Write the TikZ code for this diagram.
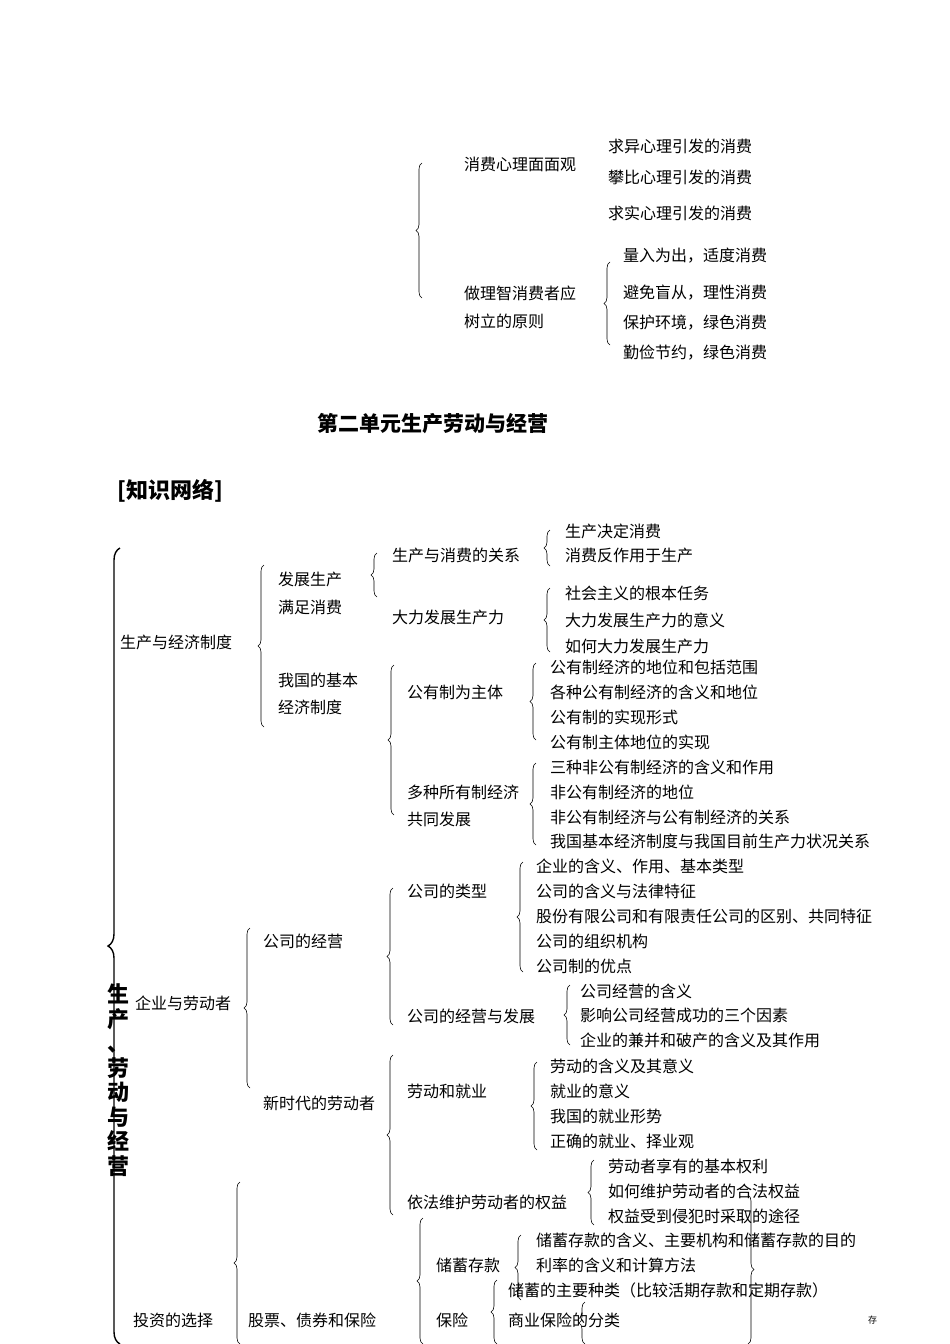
\documentclass[tikz,border=0pt]{standalone}
\usepackage{fontspec}
\setmainfont{Noto Sans CJK SC}
\usetikzlibrary{decorations.pathreplacing}
\newcounter{tn}
\newcommand{\T}[3]{\stepcounter{tn}\node[txt] (t\arabic{tn}) at (#1,#2) {#3};}
\newcommand{\B}[3]{\draw[br] (#1,#3) -- (#1,#2);}
\begin{document}
\begin{tikzpicture}[x=1pt,y=-1pt,
 txt/.style={anchor=west,inner sep=0pt,font=\fontsize{16}{18}\selectfont},
 br/.style={decorate,decoration={brace,amplitude=6pt},line width=0.6pt}]
\useasboundingbox (0,0) rectangle (950,1344);
% top section
\B{422}{163}{298}
\T{464}{164}{消费心理面面观}
\T{608}{146}{求异心理引发的消费}
\T{608}{177}{攀比心理引发的消费}
\T{608}{213}{求实心理引发的消费}
\T{464}{293}{做理智消费者应}
\T{464}{321}{树立的原则}
\B{610}{262}{345}
\T{623}{256}{量入为出，适度消费}
\T{623}{293}{避免盲从，理性消费}
\T{623}{323}{保护环境，绿色消费}
\T{623}{353}{勤俭节约，绿色消费}
\node[anchor=west,inner sep=0pt,font=\fontsize{21}{24}\selectfont\bfseries] (title) at (317,424) {第二单元生产劳动与经营};
\node[anchor=west,inner sep=0pt,font=\fontsize{22}{24}\selectfont\bfseries] (net) at (117,491) {[知识网络]};
% main brace
\draw[br,line width=1.4pt,decoration={brace,amplitude=12pt}] (120,1344) -- (120,548);
\node[inner sep=0pt,align=center,font=\fontsize{22}{24.5}\selectfont\bfseries] (vt) at (118,1080) {生\\产\\、\\劳\\动\\与\\经\\营};
% production and economic system
\T{120}{642}{生产与经济制度}
\B{264}{565}{727}
\T{278}{579}{发展生产}
\T{278}{607}{满足消费}
\T{278}{680}{我国的基本}
\T{278}{707}{经济制度}
\B{377}{553}{597}
\T{392}{555}{生产与消费的关系}
\T{392}{617}{大力发展生产力}
\B{550}{530}{566}
\T{565}{531}{生产决定消费}
\T{565}{555}{消费反作用于生产}
\B{550}{588}{652}
\T{565}{593}{社会主义的根本任务}
\T{565}{620}{大力发展生产力的意义}
\T{565}{646}{如何大力发展生产力}
\B{394}{665}{815}
\T{407}{692}{公有制为主体}
\T{407}{792}{多种所有制经济}
\T{407}{819}{共同发展}
\B{536}{663}{740}
\T{550}{667}{公有制经济的地位和包括范围}
\T{550}{692}{各种公有制经济的含义和地位}
\T{550}{717}{公有制的实现形式}
\T{550}{742}{公有制主体地位的实现}
\B{536}{763}{845}
\T{550}{767}{三种非公有制经济的含义和作用}
\T{550}{792}{非公有制经济的地位}
\T{550}{817}{非公有制经济与公有制经济的关系}
\T{550}{841}{我国基本经济制度与我国目前生产力状况关系}
% enterprise and labor
\T{135}{1003}{企业与劳动者}
\B{250}{928}{1088}
\T{263}{941}{公司的经营}
\T{263}{1103}{新时代的劳动者}
\B{393}{888}{1025}
\T{407}{891}{公司的类型}
\T{407}{1016}{公司的经营与发展}
\B{523}{862}{972}
\T{536}{866}{企业的含义、作用、基本类型}
\T{536}{891}{公司的含义与法律特征}
\T{536}{916}{股份有限公司和有限责任公司的区别、共同特征}
\T{536}{941}{公司的组织机构}
\T{536}{966}{公司制的优点}
\B{570}{985}{1045}
\T{580}{991}{公司经营的含义}
\T{580}{1015}{影响公司经营成功的三个因素}
\T{580}{1040}{企业的兼并和破产的含义及其作用}
\B{393}{1055}{1215}
\T{407}{1091}{劳动和就业}
\T{407}{1202}{依法维护劳动者的权益}
\B{537}{1062}{1150}
\T{550}{1066}{劳动的含义及其意义}
\T{550}{1091}{就业的意义}
\T{550}{1116}{我国的就业形势}
\T{550}{1141}{正确的就业、择业观}
\B{594}{1160}{1225}
\T{608}{1166}{劳动者享有的基本权利}
\T{608}{1191}{如何维护劳动者的合法权益}
\T{608}{1216}{权益受到侵犯时采取的途径}
% investment
\T{133}{1320}{投资的选择}
\B{240}{1182}{1344}
\T{248}{1320}{股票、债券和保险}
\B{423}{1218}{1344}
\T{436}{1265}{储蓄存款}
\T{436}{1320}{保险}
\B{521}{1235}{1300}
\T{536}{1240}{储蓄存款的含义、主要机构和储蓄存款的目的}
\T{536}{1265}{利率的含义和计算方法}
\T{508}{1290}{储蓄的主要种类（比较活期存款和定期存款）}
\B{497}{1280}{1344}
\T{508}{1320}{商业保险的分类}
\B{585}{1302}{1344}
\draw[br] (748,1195) -- (748,1344);
\node[txt,font=\fontsize{9}{10}\selectfont] (ft) at (868,1320) {存};
\end{tikzpicture}
\end{document}
